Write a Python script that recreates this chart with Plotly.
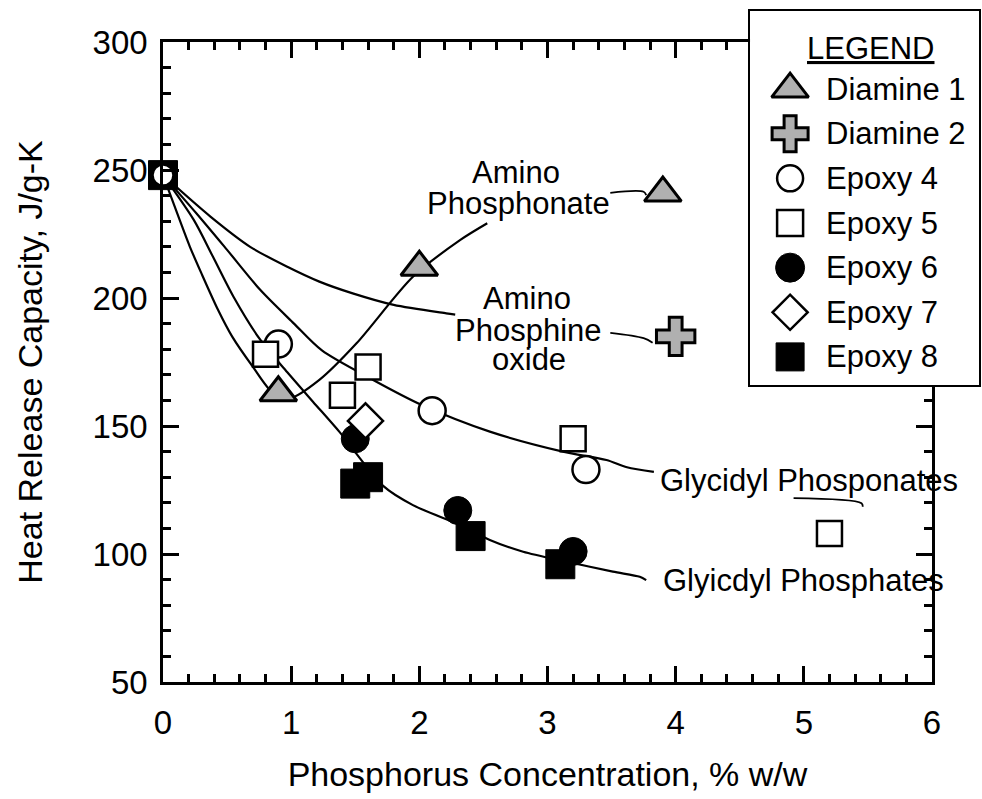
import plotly.graph_objects as go

FONT = "Liberation Sans, Arial, sans-serif"

# ---- data series ----
series_names = ["Diamine 1", "Diamine 2", "Epoxy 4", "Epoxy 5", "Epoxy 6", "Epoxy 7", "Epoxy 8"]

diamine1_x = [0.9, 2.0, 3.9]
diamine1_y = [163, 212, 241]

diamine2_x = [4.0]
diamine2_y = [185]

epoxy4_x = [0.0, 0.9, 2.1, 3.3]
epoxy4_y = [248, 182, 156, 133]

epoxy5_x = [0.8, 1.4, 1.6, 3.2, 5.2]
epoxy5_y = [178, 162, 173, 145, 108]

epoxy6_x = [1.5, 2.3, 3.2]
epoxy6_y = [145, 117, 101]

epoxy7_x = [1.58]
epoxy7_y = [152]

epoxy8_x = [0.0, 1.5, 1.6, 2.4, 3.1]
epoxy8_y = [248, 127.5, 130, 107, 96]

# ---- hand-drawn trend curves ----
phosphonate_curve_x = [0, 0.13, 0.21, 0.30, 0.43, 0.54, 0.70, 0.86, 0.99, 1.22, 1.51, 1.95, 2.32, 2.53]
phosphonate_curve_y = [248, 230.5, 220.0, 209.6, 195.3, 184.9, 173.2, 162.8, 160.8, 168.0, 182.3, 208.3, 222.7, 229.2]

oxide_curve_x = [0, 0.37, 0.68, 0.97, 1.22, 1.48, 1.80, 2.21, 2.28]
oxide_curve_y = [248, 231.8, 220.0, 212.2, 206.4, 201.8, 197.3, 194.0, 193.5]

phosphates_curve_x = [0, 0.24, 0.39, 0.55, 0.76, 0.97, 1.17, 1.38, 1.72, 1.95, 2.32, 2.55, 2.81, 3.15, 3.51, 3.72, 3.77]
phosphates_curve_y = [248, 230.5, 216.1, 200.5, 183.6, 171.0, 159.5, 147.5, 126.5, 119.1, 111.3, 105.5, 100.9, 97.0, 93.1, 91.1, 89.8]

phosponates_curve_x = [0, 0.26, 0.50, 0.76, 1.02, 1.24, 1.64, 2.02, 2.55, 3.12, 3.46, 3.62, 3.83]
phosponates_curve_y = [248, 233.1, 218.8, 203.1, 190.1, 179.5, 168.0, 158.2, 147.8, 140.0, 136.7, 133.9, 132.1]

# leader strokes next to labels
phosphonate_leader_x = [3.49, 3.75, 3.77]
phosphonate_leader_y = [241.1, 241.5, 240.2]
oxide_leader_x = [3.49, 3.75, 3.82]
oxide_leader_y = [186.4, 184.3, 182.5]
phosponates_leader_x = [4.92, 5.45, 5.46]
phosponates_leader_y = [121.8, 119.8, 118.5]

# curve labels (one entry per text line)
label_lines = ["Amino", "Phosphonate", "Amino", "Phosphine", "oxide",
               "Glycidyl Phosponates", "Glyicdyl Phosphates"]
label_x = [2.755, 2.77, 2.84, 2.85, 2.855, 5.04, 5.0]
label_y = [249.0, 237.0, 200.0, 187.5, 176.0, 128.9, 89.8]

x_ticks = [0, 1, 2, 3, 4, 5, 6]
y_ticks = [50, 100, 150, 200, 250, 300]

# ---- styles ----
GRAY = "#b0b0b0"
styles = {
    "Diamine 1": dict(symbol="triangle-up", size=32, color=GRAY, opacity=1, line=dict(color="black", width=3)),
    "Diamine 2": dict(symbol="cross", size=32, color=GRAY, opacity=1, line=dict(color="black", width=3)),
    "Epoxy 4": dict(symbol="circle", size=[21, 27, 27, 27], color="white", opacity=1, line=dict(color="black", width=2.5)),
    "Epoxy 5": dict(symbol="square", size=25, color="white", opacity=1, line=dict(color="black", width=2.5)),
    "Epoxy 6": dict(symbol="circle", size=28, color="black", opacity=1, line=dict(color="black", width=1)),
    "Epoxy 7": dict(symbol="diamond", size=27, color="white", opacity=1, line=dict(color="black", width=2.5)),
    "Epoxy 8": dict(symbol="square", size=29, color="black", opacity=1, line=dict(color="black", width=1)),
}
legend_marker_size = {"Diamine 1": 32, "Diamine 2": 30, "Epoxy 4": 26, "Epoxy 5": 26,
                      "Epoxy 6": 29, "Epoxy 7": 27, "Epoxy 8": 28}

data = {
    "Diamine 1": (diamine1_x, diamine1_y),
    "Diamine 2": (diamine2_x, diamine2_y),
    "Epoxy 4": (epoxy4_x, epoxy4_y),
    "Epoxy 5": (epoxy5_x, epoxy5_y),
    "Epoxy 6": (epoxy6_x, epoxy6_y),
    "Epoxy 7": (epoxy7_x, epoxy7_y),
    "Epoxy 8": (epoxy8_x, epoxy8_y),
}

fig = go.Figure()

# curves
for cx, cy in [(phosphonate_curve_x, phosphonate_curve_y), (oxide_curve_x, oxide_curve_y),
               (phosphates_curve_x, phosphates_curve_y), (phosponates_curve_x, phosponates_curve_y)]:
    fig.add_trace(go.Scatter(x=cx, y=cy, mode="lines", line=dict(color="black", width=2.2, shape="spline", smoothing=0.8),
                             showlegend=False, hoverinfo="skip"))
for cx, cy in [(phosphonate_leader_x, phosphonate_leader_y), (oxide_leader_x, oxide_leader_y),
               (phosponates_leader_x, phosponates_leader_y)]:
    fig.add_trace(go.Scatter(x=cx, y=cy, mode="lines", line=dict(color="black", width=1.8, shape="spline"),
                             showlegend=False, hoverinfo="skip"))

# markers (draw order controls overlap)
draw_order = ["Diamine 1", "Diamine 2", "Epoxy 8", "Epoxy 4", "Epoxy 5", "Epoxy 6", "Epoxy 7"]
for name in draw_order:
    xs, ys = data[name]
    fig.add_trace(go.Scatter(x=xs, y=ys, mode="markers", name=name, marker=styles[name],
                             cliponaxis=False, showlegend=False))

# curve labels
for t, lx, ly in zip(label_lines, label_x, label_y):
    fig.add_annotation(x=lx, y=ly, xref="x", yref="y", text=t, showarrow=False,
                       font=dict(family=FONT, size=31, color="black"), align="center")

# ---- legend box as an inset subplot ----
for i, name in enumerate(series_names):
    st = dict(styles[name])
    st["size"] = legend_marker_size[name]
    fig.add_trace(go.Scatter(x=[0.175], y=[i], mode="markers", marker=st, xaxis="x2", yaxis="y2",
                             showlegend=False, hoverinfo="skip"))
    fig.add_annotation(x=0.325, y=i, xref="x2", yref="y2", text=name, showarrow=False,
                       xanchor="left", yanchor="middle",
                       font=dict(family=FONT, size=31, color="black"))
fig.add_annotation(x=0.528, y=-0.92, xref="x2", yref="y2", text="LEGEND", showarrow=False,
                   xanchor="center", yanchor="middle",
                   font=dict(family=FONT, size=31, color="black", lineposition="under"))

axis_common = dict(showgrid=False, zeroline=False, showline=True, linecolor="black", linewidth=2.5,
                   mirror="allticks", ticks="inside", ticklen=16, tickwidth=2.5, tickcolor="black",
                   automargin=False,
                   tickfont=dict(family=FONT, size=33, color="black"))

fig.update_layout(
    width=982, height=799,
    margin=dict(l=163, r=3, t=11, b=117, autoexpand=False),
    paper_bgcolor="white", plot_bgcolor="white",
    showlegend=False,
    font=dict(family=FONT, color="black"),
    xaxis=dict(**axis_common, domain=[0, 0.9424], range=[0, 6], tickvals=x_ticks,
               ticktext=[str(v) for v in x_ticks], ticklabelstandoff=10,
               minor=dict(dtick=0.2, tick0=0, ticks="inside", ticklen=8, tickwidth=2.5, tickcolor="black"),
               title=dict(text="Phosphorus Concentration, % w/w", font=dict(family=FONT, size=34), standoff=22),
               anchor="y"),
    yaxis=dict(**axis_common, domain=[0, 0.9538], range=[50, 300], tickvals=y_ticks,
               ticktext=[str(v) for v in y_ticks], ticklabelstandoff=6,
               minor=dict(dtick=10, tick0=50, ticks="inside", ticklen=8, tickwidth=2.5, tickcolor="black"),
               title=dict(text="Heat Release Capacity, J/g-K", font=dict(family=FONT, size=34), standoff=40),
               anchor="x"),
    xaxis2=dict(domain=[0.7194, 1.0], range=[0, 1], anchor="y2", showgrid=False, zeroline=False,
                automargin=False,
                showticklabels=False, ticks="", showline=True, linecolor="black", linewidth=2, mirror=True),
    yaxis2=dict(domain=[0.4426, 1.0], range=[6.63, -1.75], anchor="x2", showgrid=False, zeroline=False,
                automargin=False,
                showticklabels=False, ticks="", showline=True, linecolor="black", linewidth=2, mirror=True),
)

fig.write_html(
    "out.html",
    config={"displayModeBar": False},
    post_script=(
        "document.documentElement.style.margin='0px';document.documentElement.style.padding='0px';"
        "document.documentElement.style.overflow='hidden';"
        "document.body.style.margin='0px';document.body.style.padding='0px';"
        "document.body.style.overflow='hidden';"
    ),
)
